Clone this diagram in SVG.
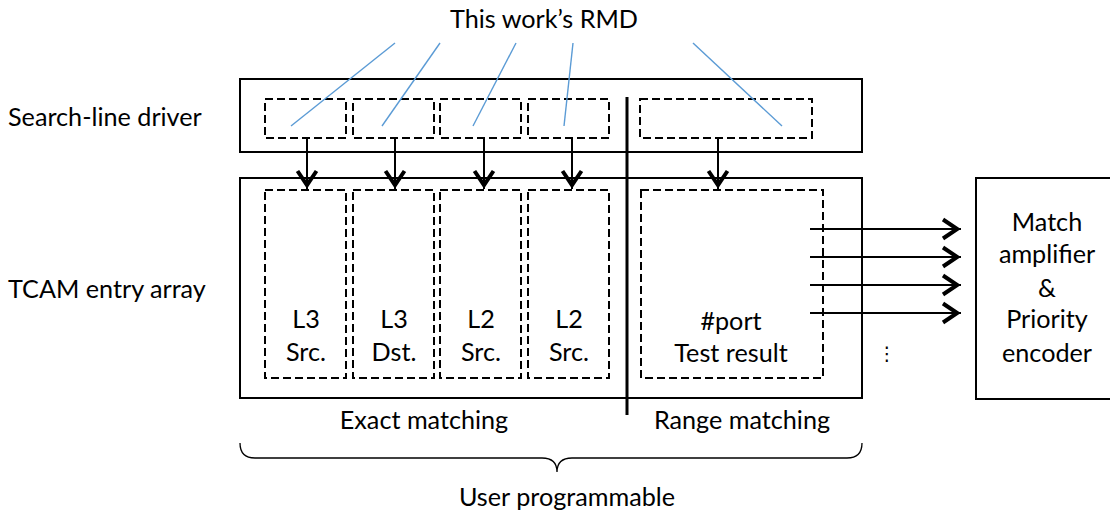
<svg xmlns="http://www.w3.org/2000/svg" width="1110" height="520" viewBox="0 0 1110 520">
  <style>
    .t { font-family: Lato, "Liberation Sans", sans-serif; font-size: 25.2px; fill: #000; }
    .c { text-anchor: middle; }
    .box { fill: none; stroke: #000; stroke-width: 2; }
    .dash { fill: none; stroke: #000; stroke-width: 2; stroke-dasharray: 8 4; }
    .wire { fill: none; stroke: #000; stroke-width: 2; }
    .rmd { fill: none; stroke: #5b9bd5; stroke-width: 1.4; }
    .brace { fill: none; stroke: #000; stroke-width: 1.3; }
  </style>
  <defs>
    <marker id="chev" markerUnits="userSpaceOnUse" orient="auto" markerWidth="30" markerHeight="30" viewBox="-20 -15 30 30" refX="0" refY="0" overflow="visible">
      <path d="M-18,-9.5 L-3.8,0 L-18,9.5" fill="none" stroke="#000" stroke-width="4"/>
    </marker>
  </defs>
  <rect width="1110" height="520" fill="#fff"/>

  <!-- side labels -->
  <g id="labels">
    <text class="t" x="8" y="126">Search-line driver</text>
    <text class="t" x="8" y="298">TCAM entry array</text>
    <text class="t c" x="544" y="28">This work’s RMD</text>
    <text class="t c" x="424" y="429">Exact matching</text>
    <text class="t c" x="742" y="429">Range matching</text>
    <text class="t c" x="567" y="506">User programmable</text>
  </g>

  <!-- search-line driver -->
  <g id="search-line-driver">
    <rect class="box" x="240" y="79" width="622" height="73"/>
    <rect class="dash" x="265" y="99" width="81" height="39"/>
    <rect class="dash" x="353" y="99" width="81" height="39"/>
    <rect class="dash" x="440" y="99" width="81" height="39"/>
    <rect class="dash" x="528" y="99" width="81" height="39"/>
    <rect class="dash" x="640" y="99" width="172" height="39"/>
  </g>

  <!-- TCAM entry array -->
  <g id="tcam-array">
    <rect class="box" x="240" y="178" width="622" height="220"/>
    <g id="l3-src">
      <rect class="dash" x="265" y="190" width="81" height="188"/>
      <text class="t c" x="306" y="328">L3</text>
      <text class="t c" x="306" y="361">Src.</text>
    </g>
    <g id="l3-dst">
      <rect class="dash" x="353" y="190" width="81" height="188"/>
      <text class="t c" x="394" y="328">L3</text>
      <text class="t c" x="394" y="361">Dst.</text>
    </g>
    <g id="l2-src-a">
      <rect class="dash" x="440" y="190" width="81" height="188"/>
      <text class="t c" x="481" y="328">L2</text>
      <text class="t c" x="481" y="361">Src.</text>
    </g>
    <g id="l2-src-b">
      <rect class="dash" x="528" y="190" width="81" height="188"/>
      <text class="t c" x="569" y="328">L2</text>
      <text class="t c" x="569" y="361">Src.</text>
    </g>
    <g id="port-test">
      <rect class="dash" x="641" y="190" width="182" height="188"/>
      <text class="t c" x="731" y="330">#port</text>
      <text class="t c" x="731" y="362">Test result</text>
    </g>
  </g>

  <!-- exact / range divider -->
  <line x1="627" y1="97" x2="627" y2="415" stroke="#000" stroke-width="3"/>

  <!-- match amplifier & priority encoder -->
  <g id="encoder">
    <rect class="box" x="976" y="178" width="150" height="221"/>
    <text class="t c" x="1047" y="231">Match</text>
    <text class="t c" x="1047" y="263">amplifier</text>
    <text class="t c" x="1047" y="297">&amp;</text>
    <text class="t c" x="1047" y="328">Priority</text>
    <text class="t c" x="1047" y="362">encoder</text>
  </g>

  <!-- connectors -->
  <g id="connectors">
    <line class="wire" x1="307" y1="139" x2="307" y2="189" marker-end="url(#chev)"/>
    <line class="wire" x1="395" y1="139" x2="395" y2="189" marker-end="url(#chev)"/>
    <line class="wire" x1="484" y1="139" x2="484" y2="189" marker-end="url(#chev)"/>
    <line class="wire" x1="572" y1="139" x2="572" y2="189" marker-end="url(#chev)"/>
    <line class="wire" x1="718" y1="139" x2="718" y2="189" marker-end="url(#chev)"/>

    <line class="wire" x1="810" y1="229" x2="961" y2="229" marker-end="url(#chev)"/>
    <line class="wire" x1="810" y1="257" x2="961" y2="257" marker-end="url(#chev)"/>
    <line class="wire" x1="810" y1="285" x2="961" y2="285" marker-end="url(#chev)"/>
    <line class="wire" x1="810" y1="313" x2="961" y2="313" marker-end="url(#chev)"/>

    <line class="rmd" x1="395" y1="43" x2="291" y2="126"/>
    <line class="rmd" x1="440" y1="43" x2="382" y2="126"/>
    <line class="rmd" x1="516" y1="43" x2="473" y2="126"/>
    <line class="rmd" x1="573" y1="43" x2="564" y2="126"/>
    <line class="rmd" x1="693" y1="43" x2="782" y2="126"/>
  </g>

  <!-- more rows -->
  <text x="887" y="360" text-anchor="middle" font-family="DejaVu Sans, sans-serif" font-size="19">⋮</text>

  <!-- user programmable brace -->
  <path class="brace" d="M240,443 Q240,458 255,458 L542,458 Q557,458 557,472 Q557,458 572,458 L847,458 Q862,458 862,443"/>
</svg>
